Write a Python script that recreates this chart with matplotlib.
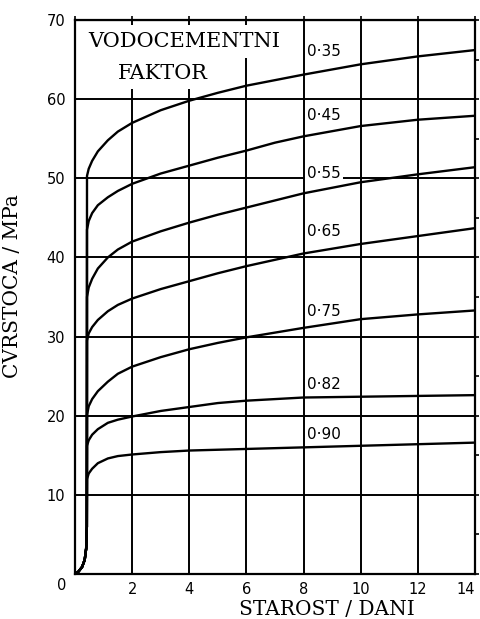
import numpy as np
import matplotlib
matplotlib.use('Agg')
import matplotlib.pyplot as plt

# age in days (shared sample points)
foot_x = [0, 0.12, 0.25, 0.34, 0.39, 0.415]
foot_y = [0, 0.3, 0.9, 1.8, 3.2, 6.0]
days = [0.42, 0.48, 0.6, 0.8, 1.15, 1.5, 2, 3, 4, 5, 6, 7, 8, 10, 12, 14]

# water/cement ratio -> strength (MPa)
wc_labels = ['0·35', '0·45', '0·55', '0·65', '0·75', '0·82', '0·90']
s035 = [50.3, 51.2, 52.2, 53.4, 54.8, 55.9, 57.0, 58.6, 59.8, 60.8, 61.7, 62.4, 63.1, 64.4, 65.4, 66.2]
s045 = [43.5, 44.6, 45.6, 46.6, 47.6, 48.4, 49.3, 50.6, 51.6, 52.6, 53.5, 54.5, 55.3, 56.6, 57.4, 57.9]
s055 = [35.0, 36.2, 37.3, 38.6, 40.0, 41.0, 42.0, 43.3, 44.4, 45.4, 46.3, 47.2, 48.1, 49.5, 50.5, 51.4]
s065 = [29.5, 30.4, 31.2, 32.1, 33.2, 34.0, 34.8, 36.0, 37.0, 38.0, 38.9, 39.7, 40.5, 41.7, 42.7, 43.7]
s075 = [20.1, 21.2, 22.1, 23.1, 24.3, 25.3, 26.2, 27.4, 28.4, 29.2, 29.9, 30.5, 31.1, 32.2, 32.8, 33.3]
s082 = [16.2, 16.9, 17.6, 18.3, 19.1, 19.5, 19.9, 20.6, 21.1, 21.6, 21.9, 22.1, 22.3, 22.4, 22.5, 22.6]
s090 = [12.0, 12.7, 13.3, 14.0, 14.6, 14.9, 15.1, 15.4, 15.6, 15.7, 15.8, 15.9, 16.0, 16.2, 16.4, 16.6]
series = [s035, s045, s055, s065, s075, s082, s090]

# where the ratio labels sit
label_x = 8.12
label_y = [66.0, 57.9, 50.6, 43.3, 33.2, 23.9, 17.6]

xticks = [2, 4, 6, 8, 10, 12, 14]
yticks = [10, 20, 30, 40, 50, 60, 70]

fig = plt.figure(figsize=(4.8, 6.19), dpi=100)
ax = fig.add_axes([0.15625, 0.0727, 0.8333, 0.895])
ax.set_xlim(0, 14)
ax.set_ylim(0, 70)

# grid: horizontal lines go under the ratio labels, vertical ones over them
for yv in yticks[:-1]:
    ax.axhline(yv, color='black', lw=1.4, zorder=1)
for xv in xticks[:-1]:
    ax.axvline(xv, color='black', lw=1.4, zorder=2.5)

# curves
for s in series:
    ax.plot(foot_x + days, foot_y + s, color='black', lw=1.7, zorder=3,
            solid_capstyle='round', solid_joinstyle='round')

for lab, ly in zip(wc_labels, label_y):
    ax.text(label_x, ly, lab, fontsize=11, family='DejaVu Sans', va='center', ha='left',
            zorder=2, bbox=dict(facecolor='white', edgecolor='none', pad=2))

# title box
ax.text(0.45, 67.3, 'VODOCEMENTNI', fontsize=15, family='DejaVu Serif', va='center', ha='left',
        zorder=2.7, bbox=dict(facecolor='white', edgecolor='none', pad=5))
ax.text(1.5, 63.3, 'FAKTOR', fontsize=15, family='DejaVu Serif', va='center', ha='left',
        zorder=2.7, bbox=dict(facecolor='white', edgecolor='none', pad=5))

for sp in ax.spines.values():
    sp.set_linewidth(1.6)

ax.set_xticks(xticks)
ax.set_yticks(yticks)
ax.tick_params(axis='both', length=0, labelsize=10.5, pad=7)
ax.tick_params(axis='x', pad=6)
ax.get_xticklabels()[-1].set_horizontalalignment('right')
ax.text(-0.3, -1.5, '0', fontsize=10.5, ha='right', va='center')

# small outer ticks on top and right
ax.secondary_xaxis('top').tick_params(length=3, width=1.2, labeltop=False)
sec = ax.secondary_yaxis('right')
sec.set_yticks(np.arange(0, 71, 5))
sec.tick_params(length=3, width=1.2, labelright=False)
for sp in list(sec.spines.values()):
    sp.set_visible(False)

ax.set_xlabel('STAROST / DANI', fontsize=14.5, family='DejaVu Serif')
ax.xaxis.set_label_coords(0.63, -0.047)
ax.set_ylabel('ČVRSTOĆA / MPa', fontsize=14.5, family='DejaVu Serif')
ax.yaxis.set_label_coords(-0.132, 0.52)

fig.savefig('out.png', dpi=100)
